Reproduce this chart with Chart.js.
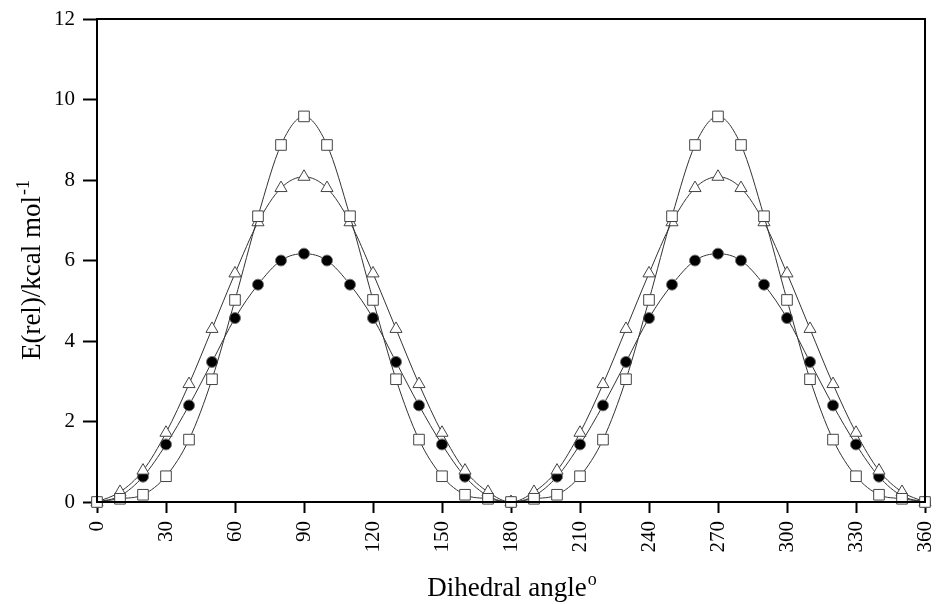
<!DOCTYPE html>
<html>
<head>
<meta charset="utf-8">
<script src="https://cdn.jsdelivr.net/npm/chart.js@4/dist/chart.umd.min.js"></script>
<style>
  html, body { margin: 0; padding: 0; background: #fff; }
  #wrap { width: 940px; height: 604px; }
</style>
</head>
<body>
<div id="wrap"><canvas id="chart" width="940" height="604"></canvas></div>
<script>
// Dihedral angles (degrees)
const angles = [0, 10, 20, 30, 40, 50, 60, 70, 80, 90, 100, 110, 120, 130, 140, 150, 160, 170, 180,
                190, 200, 210, 220, 230, 240, 250, 260, 270, 280, 290, 300, 310, 320, 330, 340, 350, 360];

// Relative energies (kcal/mol)
const squareSeries = [0, 0.08, 0.18, 0.64, 1.55, 3.05, 5.02, 7.1, 8.87, 9.58, 8.87, 7.1, 5.02, 3.05, 1.55, 0.64, 0.18, 0.08, 0,
                      0.08, 0.18, 0.64, 1.55, 3.05, 5.02, 7.1, 8.87, 9.58, 8.87, 7.1, 5.02, 3.05, 1.55, 0.64, 0.18, 0.08, 0];
const triangleSeries = [0, 0.25, 0.78, 1.72, 2.93, 4.3, 5.68, 6.95, 7.8, 8.08, 7.8, 6.95, 5.68, 4.3, 2.93, 1.72, 0.78, 0.25, 0,
                        0.25, 0.78, 1.72, 2.93, 4.3, 5.68, 6.95, 7.8, 8.08, 7.8, 6.95, 5.68, 4.3, 2.93, 1.72, 0.78, 0.25, 0];
const circleSeries = [0, 0.15, 0.63, 1.43, 2.4, 3.48, 4.57, 5.4, 6.0, 6.17, 6.0, 5.4, 4.57, 3.48, 2.4, 1.43, 0.63, 0.15, 0,
                      0.15, 0.63, 1.43, 2.4, 3.48, 4.57, 5.4, 6.0, 6.17, 6.0, 5.4, 4.57, 3.48, 2.4, 1.43, 0.63, 0.15, 0];

const xTitle = 'Dihedral angle';
const xTitleSup = 'o';
const yTitle = 'E(rel)/kcal mol';
const yTitleSup = '-1';

const FONT = "'Liberation Serif', 'Times New Roman', serif";

const toPoints = (vals) => angles.map((a, i) => ({ x: a, y: vals[i] }));

const baseDataset = {
    borderColor: '#333',
    borderWidth: 1,
    cubicInterpolationMode: 'monotone',
    pointBorderColor: '#444',
    pointBorderWidth: 1,
    clip: false
};

// draws "main" + raised "sup" starting at x0 (current transform)
const drawSupText = (ctx, main, sup, x0, y0, size, supSize, rise) => {
    ctx.font = size + 'px ' + FONT;
    const w = ctx.measureText(main).width;
    ctx.fillText(main, x0, y0);
    ctx.font = supSize + 'px ' + FONT;
    ctx.fillText(sup, x0 + w + 1, y0 - rise);
};

const textWidth = (ctx, main, sup, size, supSize) => {
    ctx.font = size + 'px ' + FONT;
    const w1 = ctx.measureText(main).width;
    ctx.font = supSize + 'px ' + FONT;
    return w1 + 1 + ctx.measureText(sup).width;
};

// Frame around plot + axis titles with superscripts
const framePlugin = {
    id: 'frame',
    afterDraw(chart) {
        const { ctx, chartArea: a } = chart;
        ctx.save();
        ctx.strokeStyle = '#000';
        ctx.lineWidth = 2;
        ctx.strokeRect(a.left, a.top, a.right - a.left, a.bottom - a.top);

        ctx.fillStyle = '#000';
        ctx.textBaseline = 'alphabetic';

        // x title
        const wx = textWidth(ctx, xTitle, xTitleSup, 27, 18);
        drawSupText(ctx, xTitle, xTitleSup, 512 - wx / 2, 596, 27, 18, 11);

        // y title (rotated)
        ctx.translate(40, 270);
        ctx.rotate(-Math.PI / 2);
        const wy = textWidth(ctx, yTitle, yTitleSup, 27, 18);
        drawSupText(ctx, yTitle, yTitleSup, -wy / 2, 0, 27, 18, 11);
        ctx.restore();
    }
};

new Chart(document.getElementById('chart'), {
    type: 'line',
    data: {
        datasets: [
            Object.assign({}, baseDataset, {
                label: 'squares',
                data: toPoints(squareSeries),
                pointStyle: 'rect',
                pointRadius: 7.5,
                pointBackgroundColor: '#fff'
            }),
            Object.assign({}, baseDataset, {
                label: 'triangles',
                data: toPoints(triangleSeries),
                pointStyle: 'triangle',
                pointRadius: 7,
                pointBackgroundColor: '#fff'
            }),
            Object.assign({}, baseDataset, {
                label: 'circles',
                data: toPoints(circleSeries),
                pointStyle: 'circle',
                pointRadius: 5.5,
                pointBackgroundColor: '#000',
                pointBorderColor: '#777'
            })
        ]
    },
    options: {
        responsive: false,
        animation: false,
        events: [],
        layout: { padding: { top: 19, right: 15, left: 0, bottom: 0 } },
        plugins: {
            legend: { display: false },
            tooltip: { enabled: false }
        },
        scales: {
            x: {
                type: 'linear',
                min: 0,
                max: 360,
                afterFit: (s) => {
                    s.height = 102;
                    s.paddingLeft = 0;
                    s.paddingRight = 0;
                },
                ticks: {
                    stepSize: 30,
                    minRotation: 90,
                    maxRotation: 90,
                    padding: 8,
                    color: '#000',
                    font: { family: FONT, size: 21 }
                },
                grid: {
                    drawOnChartArea: false,
                    tickLength: 11,
                    tickWidth: 2,
                    color: '#000'
                },
                border: { color: '#000', width: 2 }
            },
            y: {
                min: 0,
                max: 12,
                afterFit: (s) => {
                    s.width = 97;
                    s.paddingTop = 0;
                    s.paddingBottom = 0;
                },
                ticks: {
                    stepSize: 2,
                    padding: 8,
                    color: '#000',
                    font: { family: FONT, size: 21 }
                },
                grid: {
                    drawOnChartArea: false,
                    tickLength: 14,
                    tickWidth: 2,
                    color: '#000'
                },
                border: { color: '#000', width: 2 }
            }
        }
    },
    plugins: [framePlugin]
});
</script>
</body>
</html>
